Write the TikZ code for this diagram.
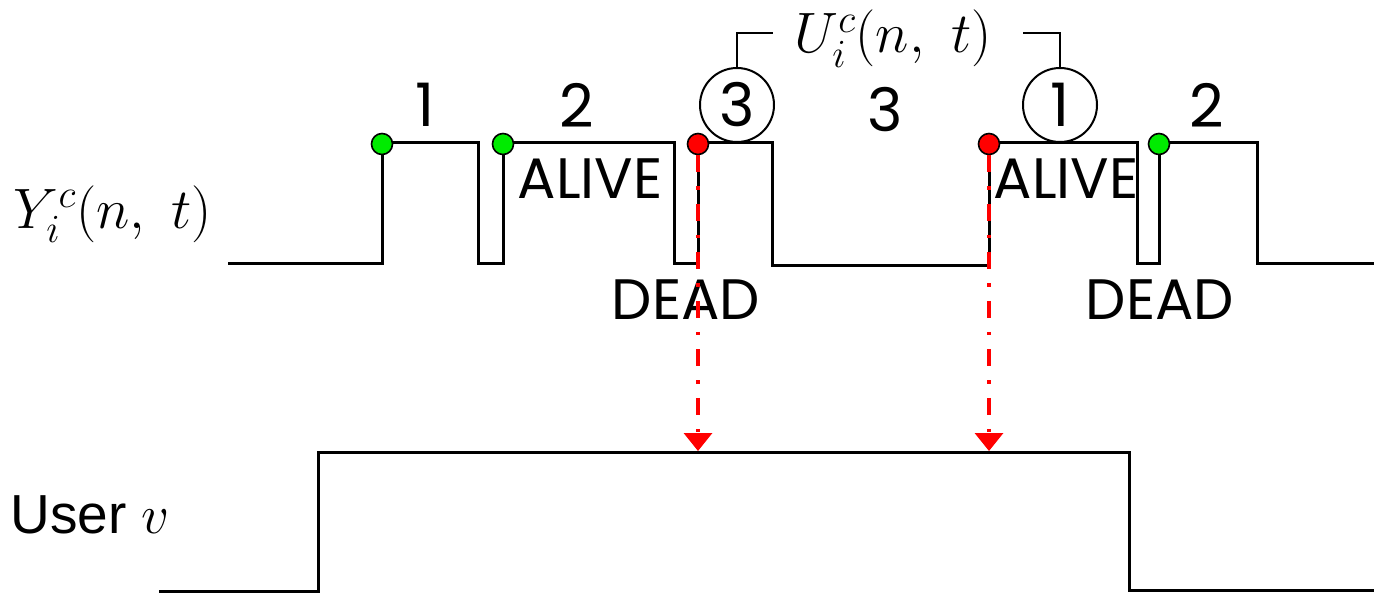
\RequirePackage{fix-cm}
\documentclass[tikz,border=0pt]{standalone}
\usepackage{amsmath}
\usepackage{fontspec}
\setsansfont{Liberation Sans}
\newfontfamily\gothfont{Poppins}
\usepackage{tikz}
\usetikzlibrary{arrows.meta,positioning}
\definecolor{sigred}{RGB}{255,0,0}
\definecolor{siggreen}{RGB}{0,235,0}

\begin{document}
\begin{tikzpicture}[x=1pt,y=-1pt,>=Latex,every node/.style={inner sep=0pt},
    sig/.style={line width=3pt,line join=miter},
    dot/.style={circle,draw=black,line width=1.6pt,minimum size=21pt},
    num/.style={font=\gothfont\fontsize{60}{62}\selectfont},
    word/.style={font=\gothfont\fontsize{57}{60}\selectfont},
    ring/.style={circle,draw,line width=2pt,minimum size=74pt,font=\gothfont\fontsize{60}{62}\selectfont},
    mathlbl/.style={font=\fontsize{57}{60}\selectfont},
    trig/.style={draw=sigred,line width=3.5pt,dash pattern=on 17pt off 14pt on 3.5pt off 14pt,-{Triangle[width=28pt,length=18pt]}}]
    \useasboundingbox (0,0) rectangle (1374,594);
    % upper signal
    \draw[sig] (228,263) -- (382,263) -- (382,142) -- (478,142) -- (478,263) -- (503,263) -- (503,142)
      -- (674,142) -- (674,263) -- (698,263) -- (698,142) -- (772,142) -- (772,265) -- (989,265)
      -- (989,142) -- (1137,142) -- (1137,263) -- (1159,263) -- (1159,142) -- (1257,142) -- (1257,263) -- (1374,263);
    % lower signal
    \draw[sig] (159,591) -- (318,591) -- (318,452) -- (1129,452) -- (1129,590) -- (1374,590);
    \node[mathlbl,anchor=base] (ylbl) at (113,228) {$Y_i^c(n,\ t)$};
    \node[font=\sffamily\fontsize{55}{60}\selectfont,anchor=base] (user) at (90,533) {User $v$};
    \node[num] (n1) at (425,105) {1};
    \node[num] (n2) at (577,105) {2};
    \node[num] (n3) at (885,110) {3};
    \node[num] (n4) at (1207,105) {2};
    \node[ring] (ring3) at (737,105) {3};
    \node[ring] (ring1) at (1060,105) {1};
    \node[mathlbl,anchor=base] (ulbl) at (893,53) {$U_i^c(n,\ t)$};
    \coordinate (lbrk) at (773,33);
    \coordinate (rbrk) at (1023,33);
    \draw[line width=2pt] (ring3.north) |- (lbrk);
    \draw[line width=2pt] (rbrk) -| (ring1.north);
    \node[word] (alive1) at (590,179) {ALIVE};
    \node[word] (alive2) at (1066,179) {ALIVE};
    \node[word] (dead1) at (686,300) {DEAD};
    \node[word] (dead2) at (1160,300) {DEAD};
    \node[dot,fill=siggreen] (g1) at (382,144) {};
    \node[dot,fill=siggreen] (g2) at (503,144) {};
    \node[dot,fill=siggreen] (g3) at (1159,144) {};
    \node[dot,fill=sigred] (r1) at (698,144) {};
    \node[dot,fill=sigred] (r2) at (989,144) {};
    \coordinate (hit1) at (698,451);
    \coordinate (hit2) at (989,451);
    \draw[trig] (r1) -- (hit1);
    \draw[trig] (r2) -- (hit2);
  \end{tikzpicture}
\end{document}
